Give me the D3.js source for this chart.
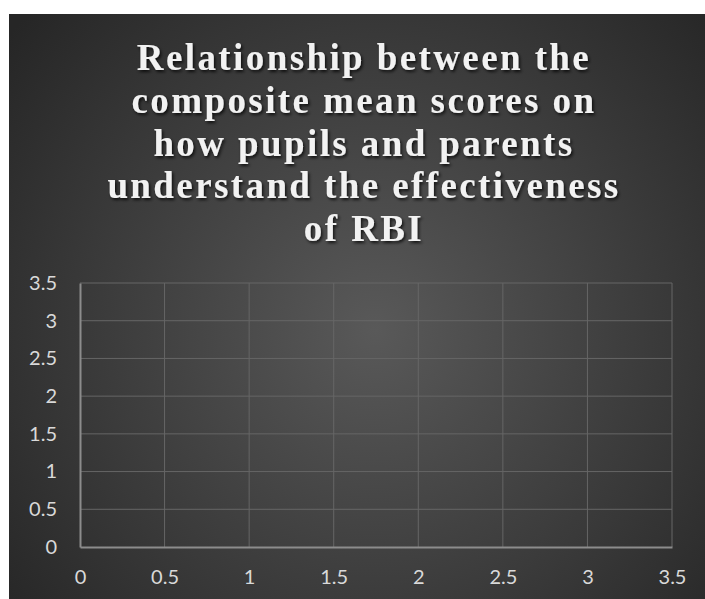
<!DOCTYPE html>
<html>
<head>
<meta charset="utf-8">
<script src="https://cdn.jsdelivr.net/npm/d3@7/dist/d3.min.js"></script>
<style>
  html, body { margin: 0; padding: 0; background: #ffffff; }
  svg { display: block; }
</style>
</head>
<body>
<svg id="chart" width="705" height="599"></svg>
<script>
// ---- data ----
const titleLines = [
  "Relationship between the",
  "composite mean scores on",
  "how pupils and parents",
  "understand the effectiveness",
  "of RBI"
];
const xTicks = [0, 0.5, 1, 1.5, 2, 2.5, 3, 3.5];
const yTicks = [0, 0.5, 1, 1.5, 2, 2.5, 3, 3.5];
const xDomain = [0, 3.5];
const yDomain = [0, 3.5];
// composite mean scores (pupils vs parents) – no points are visible in the chart
const pupilsScores = [];
const parentsScores = [];

// ---- drawing ----
const svg = d3.select("#chart");
const defs = svg.append("defs");

const grad = defs.append("radialGradient")
  .attr("id", "bg").attr("gradientUnits", "userSpaceOnUse")
  .attr("cx", 375).attr("cy", 330).attr("r", 470);
grad.append("stop").attr("offset", "0%").attr("stop-color", "#595959");
grad.append("stop").attr("offset", "100%").attr("stop-color", "#262626");

const shadow = defs.append("filter").attr("id", "shadow")
  .attr("x", "-10%").attr("y", "-30%").attr("width", "120%").attr("height", "160%");
shadow.append("feDropShadow")
  .attr("dx", 1.5).attr("dy", 2).attr("stdDeviation", 1.5)
  .attr("flood-color", "#000").attr("flood-opacity", 0.75);

svg.append("rect")
  .attr("x", 9).attr("y", 14).attr("width", 705 - 9).attr("height", 599 - 14)
  .attr("fill", "url(#bg)");

// title
const title = svg.append("text")
  .attr("text-anchor", "middle")
  .attr("font-family", "'Liberation Serif', 'Times New Roman', serif")
  .attr("font-weight", "bold")
  .attr("font-size", 37)
  .attr("letter-spacing", "2.4px")
  .attr("fill", "#f2f2f2")
  .attr("filter", "url(#shadow)");
title.selectAll("tspan").data(titleLines).join("tspan")
  .attr("x", 364)
  .attr("y", (d, i) => 70 + i * 42.8)
  .text(d => d);

// scales
const x = d3.scaleLinear().domain(xDomain).range([80, 672]);
const y = d3.scaleLinear().domain(yDomain).range([547, 283]);

const grid = svg.append("g");
grid.selectAll("line.h").data(yTicks.filter(d => d > 0)).join("line")
  .attr("class", "h")
  .attr("x1", x(xDomain[0])).attr("x2", x(xDomain[1]))
  .attr("y1", d => y(d)).attr("y2", d => y(d))
  .attr("stroke", "#666666").attr("stroke-width", 1);
grid.selectAll("line.v").data(xTicks.filter(d => d > 0)).join("line")
  .attr("class", "v")
  .attr("y1", y(yDomain[0])).attr("y2", y(yDomain[1]))
  .attr("x1", d => x(d)).attr("x2", d => x(d))
  .attr("stroke", "#666666").attr("stroke-width", 1);

// axes
const xAxis = d3.axisBottom(x).tickValues(xTicks).tickSize(0).tickPadding(23)
  .tickFormat(d3.format("~g"));
const yAxis = d3.axisLeft(y).tickValues(yTicks).tickSize(0).tickPadding(23)
  .tickFormat(d3.format("~g"));

const gx = svg.append("g").attr("transform", `translate(0,${y(0)})`).call(xAxis);
const gy = svg.append("g").attr("transform", `translate(${x(0)},0)`).call(yAxis);

[gx, gy].forEach(g => {
  g.attr("font-size", 20).attr("font-family", "Lato, 'Open Sans', sans-serif");
  g.select(".domain").attr("stroke", "#8c8c8c").attr("stroke-width", 2);
  g.selectAll("text").attr("fill", "#d9d9d9");
});

// points (none visible in the reference)
svg.append("g").selectAll("circle")
  .data(pupilsScores.map((v, i) => [v, parentsScores[i]]))
  .join("circle")
  .attr("cx", d => x(d[0])).attr("cy", d => y(d[1])).attr("r", 4)
  .attr("fill", "#5b9bd5");
</script>
</body>
</html>
